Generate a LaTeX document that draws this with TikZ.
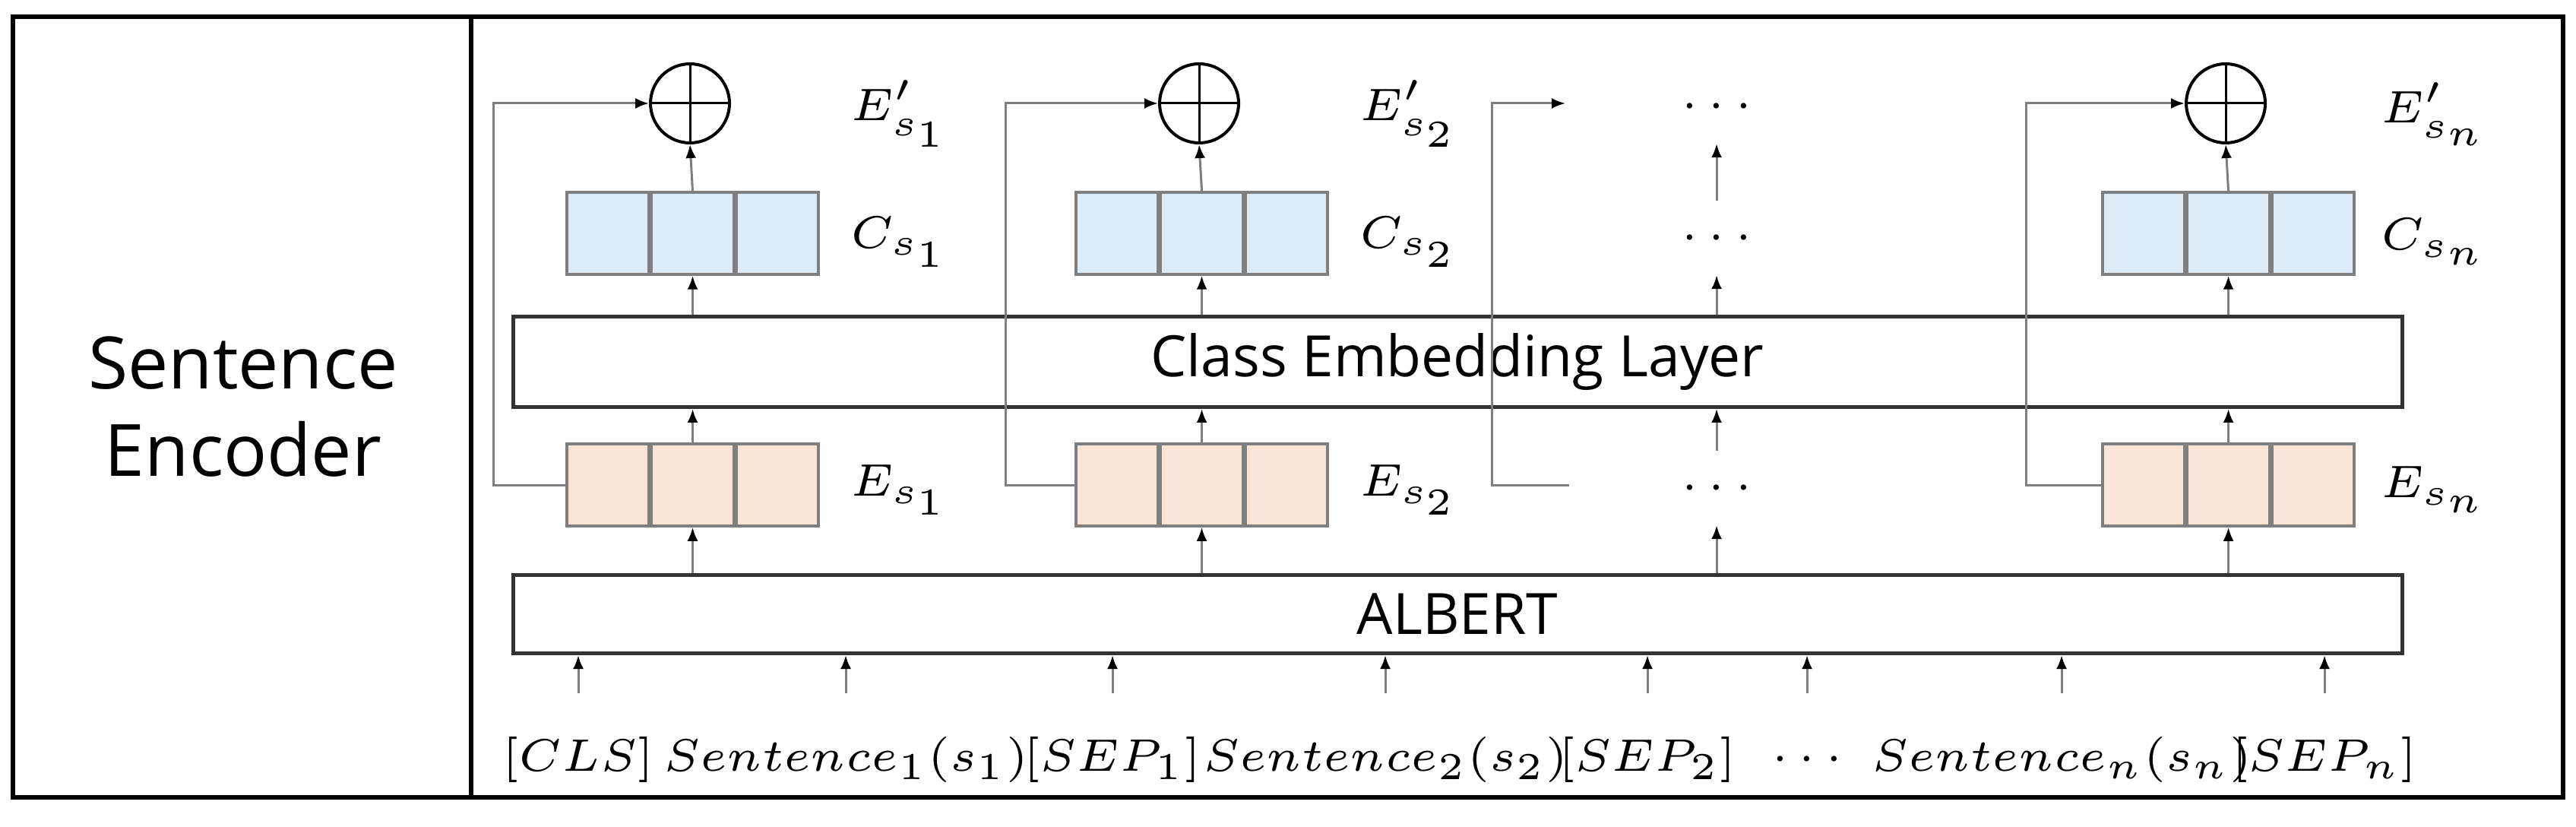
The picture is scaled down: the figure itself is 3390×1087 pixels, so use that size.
\documentclass[tikz,border=0pt]{standalone}
\usepackage{fontspec}
\setmainfont{Open Sans}
\usetikzlibrary{arrows.meta,positioning}
\definecolor{cellblue}{HTML}{DDEBF7}
\definecolor{cellorange}{HTML}{FCE4D6}
\definecolor{linegray}{HTML}{7F7F7F}
\tikzset{every picture/.style={line width=0.3pt}}
\begin{document}
\begin{tikzpicture}[x=0.1pt,y=0.1pt,yscale=-1,xscale=1,
  cell/.style={draw=linegray,line width=0.35pt,minimum width=10.8pt,minimum height=10.8pt,inner sep=0pt},
  layer/.style={draw=black!80,line width=0.5pt,minimum width=248.6pt,inner sep=0pt,font=\fontsize{7.5pt}{8pt}\selectfont},
  up/.style={draw=linegray,-{Latex[length=1.8pt,width=1.4pt,color=black]}},
  lbl/.style={font=\fontsize{6.5pt}{7pt}\selectfont},
  inp/.style={font=\fontsize{5.6pt}{6pt}\selectfont},
  summ/.style={circle,draw=black,line width=0.4pt,minimum size=10.4pt,inner sep=0pt}]
\useasboundingbox (0,0) rectangle (3390,1087);
%frame
\draw [line width=0.6pt] (17,22) rectangle (3373,1049);
\draw [line width=0.6pt] (620,22) -- (620,1049);
\node [font=\fontsize{9.5pt}{11.5pt}\selectfont,align=center] (title) at (320,535) {Sentence\\Encoder};

% layers
\node [layer,minimum height=11.9pt] (cel) at (1918,476) {Class Embedding Layer};
\node [layer,minimum height=10.3pt] (albert) at (1918,808) {ALBERT};

% columns with boxes
\foreach \i/\x/\lx/\s in {1/908/1185/s_1,2/1578/1855/s_2,n/2929/3204/s_n}{
  \node [cell,fill=cellorange] (e\i a) at (\x-108,638) {};
  \node [cell,fill=cellorange,right=0pt of e\i a] (e\i) {};
  \node [cell,fill=cellorange,right=0pt of e\i] (e\i b) {};
  \node [cell,fill=cellblue] (c\i a) at (\x-108,307) {};
  \node [cell,fill=cellblue,right=0pt of c\i a] (c\i) {};
  \node [cell,fill=cellblue,right=0pt of c\i] (c\i b) {};
  \node [summ] (p\i) at (\x,136) {};
  \draw (p\i.north) -- (p\i.south) (p\i.west) -- (p\i.east);
  \node [lbl] (le\i) at (\lx,644) {$E_{\s}$};
  \node [lbl] (lc\i) at (\lx,318) {$C_{\s}$};
  \node [lbl] (lp\i) at (\lx,150) {$E'_{\s}$};
  \draw [up] (e\i |- albert.north) -- (e\i.south);
  \draw [up] (e\i.north) -- (e\i |- cel.south);
  \draw [up] (c\i |- cel.north) -- (c\i.south);
  \draw [up] (c\i.north) -- (p\i.south);
}
% bypass lines
\draw [up] (e1a.west) -| (649,136) -- (p1.west);
\draw [up] (e2a.west) -| (1323,136) -- (p2.west);
\draw [up] (ena.west) -| (2666,136) -- (pn.west);

% dotted column
\node [lbl] (d1) at (2259,140) {$\cdots$};
\node [lbl] (d2) at (2259,313) {$\cdots$};
\node [lbl] (d3) at (2259,642) {$\cdots$};
\coordinate (b3) at (2065,638);
\coordinate (t3) at (2060,136);
\draw [up] (b3) -| (1963,136) -- (t3);
\draw [up] (d1 |- albert.north) -- (d3.south);
\draw [up] (d3.north) -- (d3 |- cel.south);
\draw [up] (d2 |- cel.north) -- (d2.south);
\draw [up] (d2.north) -- (d1.south);

% inputs
\foreach \n/\x/\t in {cls/761/{$[CLS]$},sa/1113/{$Sentence_1(s_1)$},sb/1464/{$[SEP_1]$},
  sc/1823/{$Sentence_2(s_2)$},sd/2168/{$[SEP_2]$},se/2378/{$\cdots$},
  sf/2713/{$Sentence_n(s_n)$},sg/3059/{$[SEP_n]$}}{
  \node [inp] (in\n) at (\x,999) {\t};
  \coordinate (a\n) at (\x,912);
  \draw [up] (a\n) -- (a\n |- albert.south);
}
\end{tikzpicture}
\end{document}
